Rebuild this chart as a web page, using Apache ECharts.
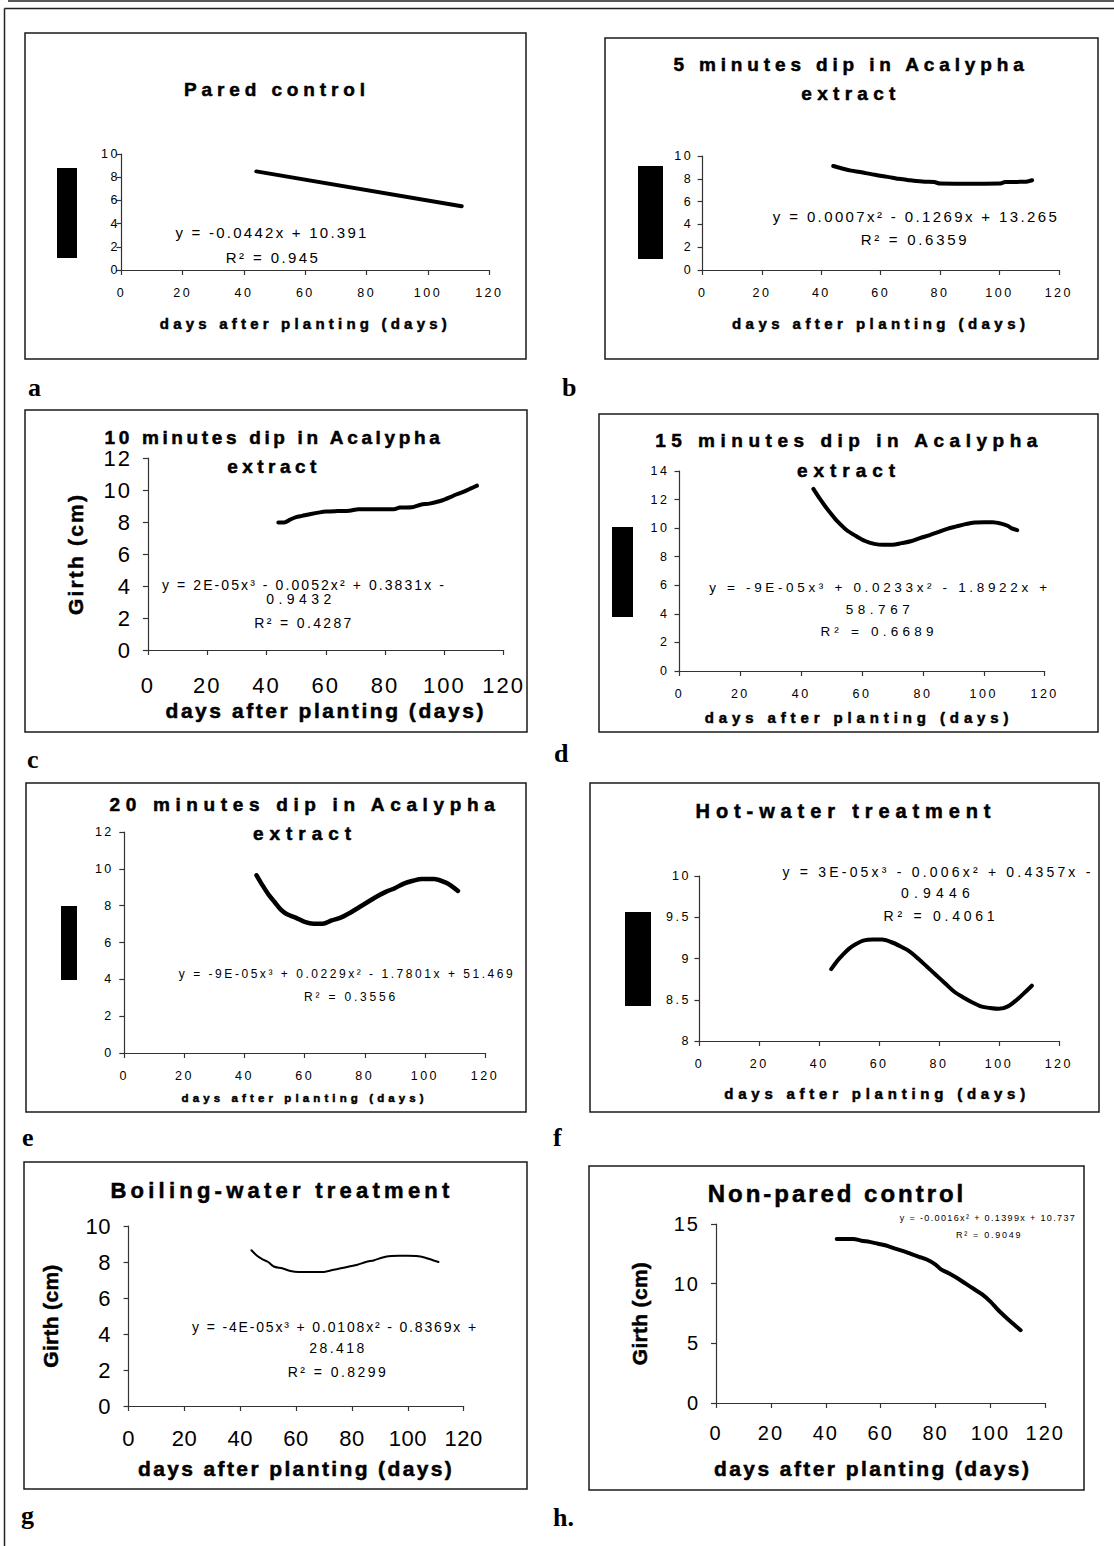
<!DOCTYPE html>
<html>
<head>
<meta charset="utf-8">
<script src="https://cdn.jsdelivr.net/npm/echarts@6/dist/echarts.min.js"></script>
<style>
  html, body { margin: 0; padding: 0; background: #fff; }
  body { position: relative; width: 1114px; height: 1546px; overflow: hidden; }
  .layer { position: absolute; left: 0; top: 0; width: 1114px; height: 1546px; }
</style>
</head>
<body>
<script>
const W = 1114, H = 1546;
const SANS = '"Liberation Sans", Arial, sans-serif';
const SERIF = '"Liberation Serif", "Times New Roman", serif';

// girth (cm) against days after planting
const paredDays = [44, 111];
const paredGirth = [8.5, 5.5];

const dip5Days = [44, 47, 50, 53, 55, 58, 61, 64, 66, 69, 72, 75, 78, 80, 85, 90, 95, 100, 102, 106, 109, 111];
const dip5Girth = [9.12, 8.9, 8.72, 8.6, 8.5, 8.35, 8.22, 8.1, 8.0, 7.9, 7.8, 7.75, 7.72, 7.58, 7.57, 7.57, 7.57, 7.58, 7.72, 7.73, 7.75, 7.87];

const dip10Days = [44, 46, 48, 50, 52, 55, 58, 60, 64, 68, 71, 75, 79, 83, 85, 89, 92, 95, 98, 100, 102, 104, 107, 109, 111];
const dip10Girth = [7.97, 7.97, 8.15, 8.3, 8.38, 8.5, 8.6, 8.65, 8.68, 8.7, 8.8, 8.8, 8.8, 8.8, 8.9, 8.92, 9.08, 9.15, 9.28, 9.4, 9.55, 9.72, 9.93, 10.1, 10.27];

const dip15Days = [44, 46, 48, 50, 52, 55, 58, 61, 64, 67, 70, 73, 76, 79, 82, 85, 88, 91, 94, 97, 100, 103, 106, 108, 109, 111];
const dip15Girth = [12.75, 12.1, 11.5, 10.95, 10.45, 9.85, 9.45, 9.1, 8.9, 8.83, 8.83, 8.95, 9.08, 9.3, 9.5, 9.72, 9.95, 10.12, 10.28, 10.4, 10.42, 10.42, 10.3, 10.15, 10.0, 9.86];

const dip20Days = [44, 46, 48, 50, 52, 54, 57, 60, 63, 66, 69, 72, 75, 78, 81, 84, 87, 90, 93, 96, 99, 103, 107, 109, 111];
const dip20Girth = [9.65, 9.1, 8.6, 8.2, 7.8, 7.55, 7.35, 7.12, 7.02, 7.02, 7.2, 7.35, 7.6, 7.9, 8.2, 8.5, 8.75, 8.95, 9.2, 9.35, 9.45, 9.45, 9.25, 9.05, 8.8];

const hotDays = [44, 46, 48, 50, 52, 55, 58, 61, 64, 67, 70, 73, 76, 79, 82, 85, 88, 91, 94, 97, 100, 103, 106, 109, 111];
const hotGirth = [8.87, 8.97, 9.05, 9.12, 9.17, 9.22, 9.23, 9.23, 9.2, 9.15, 9.09, 9.0, 8.9, 8.8, 8.7, 8.6, 8.53, 8.47, 8.42, 8.4, 8.39, 8.42, 8.5, 8.6, 8.67];

const boilDays = [44, 46, 48, 50, 52, 55, 58, 61, 64, 67, 70, 73, 76, 79, 82, 85, 88, 91, 94, 97, 100, 103, 106, 109, 111];
const boilGirth = [8.65, 8.35, 8.15, 8.0, 7.75, 7.65, 7.5, 7.45, 7.45, 7.45, 7.45, 7.55, 7.65, 7.75, 7.85, 8.0, 8.1, 8.25, 8.33, 8.35, 8.35, 8.33, 8.25, 8.1, 8.0];

const nonParedDays = [44, 47, 50, 53, 56, 59, 62, 65, 68, 71, 74, 77, 80, 82, 85, 88, 91, 94, 97, 100, 103, 106, 109, 111];
const nonParedGirth = [13.75, 13.75, 13.75, 13.6, 13.5, 13.35, 13.2, 12.95, 12.75, 12.5, 12.25, 12.0, 11.6, 11.2, 10.85, 10.45, 10.0, 9.55, 9.1, 8.5, 7.75, 7.1, 6.5, 6.1];

const dayAxis = [0, 120, 20];
const xName = 'days after planting (days)';
const yName = 'Girth (cm)';

// layout per panel (page pixels)
const panels = [
  { letter: 'a', letterPos: [28, 387], days: paredDays, girth: paredGirth, lw: 4,
    box: [25, 33, 526, 359], grid: [121.4, 154, 367.9, 116], yRange: [0, 10, 2],
    title: ['Pared control'], titleW: [181], titleX: 277, titleY: 89, titleSize: 19, titleLh: 29,
    tickSize: 12.5, tickLs: 2.5, xMargin: 16, yMargin: 1.5,
    xNameSize: 15, xNameGap: 45.5, xNameW: 287, redact: [57, 168, 20, 90],
    eqSize: 15, eq: [['y = -0.0442x + 10.391', 272, 232, 191], ['R² = 0.945', 273, 257, 92]] },
  { letter: 'b', letterPos: [562, 387], days: dip5Days, girth: dip5Girth, lw: 4,
    box: [605, 38, 1098, 359], grid: [702.6, 156, 356.2, 114], yRange: [0, 10, 2],
    title: ['5 minutes dip in Acalypha', 'extract'], titleW: [351, 94], titleX: 851, titleY: 64, titleSize: 19, titleLh: 29,
    tickSize: 12.5, tickLs: 2.5, xMargin: 16, yMargin: 9.5,
    xNameSize: 15, xNameGap: 45.5, xNameW: 293, redact: [638, 166, 25, 93],
    eqSize: 15, eq: [['y = 0.0007x² - 0.1269x + 13.265', 916, 216, 284], ['R² = 0.6359', 915, 239, 106]] },
  { letter: 'c', letterPos: [27, 759], days: dip10Days, girth: dip10Girth, lw: 4,
    box: [25, 410, 527, 732], grid: [147.9, 458, 355.7, 192], yRange: [0, 12, 2],
    title: ['10 minutes dip in Acalypha', 'extract'], titleW: [336, 89], titleX: 274, titleY: 437, titleSize: 19, titleLh: 29,
    tickSize: 22, tickLs: 2, xMargin: 24, yMargin: 16,
    xNameSize: 21, xNameGap: 49.5, xNameW: 318, yNameGap: 62.4, yNameW: 120,
    eqSize: 14, eq: [['y = 2E-05x³ - 0.0052x² + 0.3831x -', 304, 585, 282], ['0.9432', 301, 599, 65], ['R² = 0.4287', 304, 623, 97]] },
  { letter: 'd', letterPos: [554, 753], days: dip15Days, girth: dip15Girth, lw: 4,
    box: [599, 414, 1098, 732], grid: [679.5, 471, 365.1, 200], yRange: [0, 14, 2],
    title: ['15 minutes dip in Acalypha', 'extract'], titleW: [383, 98], titleX: 849, titleY: 440, titleSize: 19, titleLh: 30,
    tickSize: 12.5, tickLs: 2.5, xMargin: 16, yMargin: 10,
    xNameSize: 15, xNameGap: 38.5, xNameW: 304, xNameShift: 6, redact: [612, 527, 21, 90],
    eqSize: 13.5, eq: [['y = -9E-05x³ + 0.0233x² - 1.8922x +', 880, 587, 338], ['58.767', 880, 609, 64], ['R² = 0.6689', 879, 631, 113]] },
  { letter: 'e', letterPos: [22, 1137], days: dip20Days, girth: dip20Girth, lw: 4.5,
    box: [26, 783, 526, 1112], grid: [124.3, 832, 360.7, 221], yRange: [0, 12, 2],
    title: ['20 minutes dip in Acalypha', 'extract'], titleW: [386, 98], titleX: 305, titleY: 804, titleSize: 19, titleLh: 29,
    tickSize: 12.5, tickLs: 2.5, xMargin: 16, yMargin: 10.5,
    xNameSize: 11.5, xNameGap: 39.2, xNameW: 242, redact: [61, 906, 16, 74],
    eqSize: 12, eq: [['y = -9E-05x³ + 0.0229x² - 1.7801x + 51.469', 347, 974, 334], ['R² = 0.3556', 351, 997, 91]] },
  { letter: 'f', letterPos: [553, 1137], days: hotDays, girth: hotGirth, lw: 4,
    box: [590, 783, 1099, 1112], grid: [699.4, 876, 359.4, 165], yRange: [8, 10, 0.5],
    title: ['Hot-water treatment'], titleW: [295], titleX: 846, titleY: 811, titleSize: 20, titleLh: 29,
    tickSize: 12.5, tickLs: 2.5, xMargin: 16, yMargin: 8.5,
    xNameSize: 15, xNameGap: 44.5, xNameW: 301, xNameShift: 4, redact: [625, 912, 26, 94],
    eqSize: 14, eq: [['y = 3E-05x³ - 0.006x² + 0.4357x -', 938, 872, 308], ['0.9446', 938, 893, 69], ['R² = 0.4061', 941, 916, 111]] },
  { letter: 'g', letterPos: [21, 1515], days: boilDays, girth: boilGirth, lw: 2,
    box: [24, 1162, 527, 1489], grid: [128.6, 1226, 335, 180], yRange: [0, 10, 2],
    title: ['Boiling-water treatment'], titleW: [339], titleX: 282, titleY: 1190, titleSize: 22, titleLh: 29,
    tickSize: 22, tickLs: 0.5, xMargin: 21, yMargin: 17.5,
    xNameSize: 21, xNameGap: 51.5, xNameW: 314, yNameGap: 68, yNameW: 103,
    eqSize: 14, eq: [['y = -4E-05x³ + 0.0108x² - 0.8369x +', 335, 1327, 284], ['28.418', 338, 1348, 55], ['R² = 0.8299', 338, 1372, 98]] },
  { letter: 'h.', letterPos: [553, 1517], days: nonParedDays, girth: nonParedGirth, lw: 4,
    box: [589, 1166, 1084, 1490], grid: [716, 1224, 329.3, 179], yRange: [0, 15, 5],
    title: ['Non-pared control'], titleW: [255.5], titleX: 837, titleY: 1193, titleSize: 24, titleLh: 29,
    tickSize: 20, tickLs: 2, xMargin: 20, yMargin: 16,
    xNameSize: 21, xNameGap: 54.5, xNameW: 315, xNameShift: 16, yNameGap: 66, yNameW: 103,
    eqSize: 9, eq: [['y = -0.0016x² + 0.1399x + 10.737', 988, 1218, 175], ['R² = 0.9049', 989, 1235, 64.5]] }
];

// the scanned figure has wide letter spacing; stretch svg text to the widths seen
const measureCtx = document.createElement('canvas').getContext('2d');
function spaceText(chart, targets, tickLs) {
  chart.getDom().querySelectorAll('text').forEach(t => {
    const s = t.textContent;
    let ls = 0;
    if (s in targets) {
      const cs = getComputedStyle(t);
      measureCtx.font = `${cs.fontWeight} ${cs.fontSize} ${cs.fontFamily}`;
      const n = [...s].length;
      if (n > 1) ls = (targets[s] - measureCtx.measureText(s).width) / (n - 1);
    } else if (/^\d+(\.\d+)?$/.test(s)) {
      ls = tickLs;
    }
    if (ls) t.setAttribute('letter-spacing', ls.toFixed(2));
  });
}

function newChart() {
  const el = document.createElement('div');
  el.className = 'layer';
  document.body.appendChild(el);
  return echarts.init(el, null, { renderer: 'svg', width: W, height: H });
}

// outer double rule of the figure
const frame = newChart();
frame.setOption({
  animation: false,
  graphic: [
    [8, 1, W, 1], [4.5, 8.5, W, 8.5], [4.5, 8.5, 4.5, H]
  ].map(([x1, y1, x2, y2]) => ({
    type: 'line', silent: true,
    shape: { x1, y1, x2, y2 },
    style: { stroke: '#222', lineWidth: 1.5 }
  }))
});

const heavy = { textBorderColor: '#000', textBorderWidth: 0.5 };

panels.forEach(p => {
  const chart = newChart();
  const targets = {};
  p.title.forEach((s, i) => { targets[s] = p.titleW[i]; });
  targets[xName] = p.xNameW;
  if (p.yNameW) targets[yName] = p.yNameW;
  p.eq.forEach(l => { targets[l[0]] = l[3]; });

  const [bx1, by1, bx2, by2] = p.box;
  const graphic = [
    { type: 'rect', silent: true, z: -1,
      shape: { x: bx1, y: by1, width: bx2 - bx1, height: by2 - by1 },
      style: { fill: 'none', stroke: '#1a1a1a', lineWidth: 1.5 } },
    { type: 'text', silent: true, x: p.letterPos[0], y: p.letterPos[1],
      style: { text: p.letter, fontFamily: SERIF, fontWeight: 'bold', fontSize: 26, fill: '#000',
               textAlign: 'left', textVerticalAlign: 'middle' } }
  ];
  if (p.redact) {
    const [rx, ry, rw, rh] = p.redact;
    graphic.push({ type: 'rect', silent: true, shape: { x: rx, y: ry, width: rw, height: rh }, style: { fill: '#000' } });
  }
  p.eq.forEach(([text, x, y]) => {
    graphic.push({ type: 'text', silent: true, x, y,
      style: { text, fontFamily: SANS, fontSize: p.eqSize, fill: '#000', textAlign: 'center', textVerticalAlign: 'middle' } });
  });

  const axisLine = { show: true, onZero: false, lineStyle: { color: '#333', width: 1.2 } };
  const axisTick = { show: true, length: 5, lineStyle: { color: '#333', width: 1.2 } };
  const yAxis = {
    type: 'value', min: p.yRange[0], max: p.yRange[1], interval: p.yRange[2],
    axisLine, axisTick, splitLine: { show: false },
    axisLabel: { margin: p.yMargin, fontFamily: SANS, fontSize: p.tickSize, color: '#000' }
  };
  if (p.yNameW) {
    Object.assign(yAxis, {
      name: yName, nameLocation: 'middle', nameRotate: 90, nameGap: p.yNameGap,
      nameTextStyle: { fontFamily: SANS, fontWeight: 'bold', fontSize: 21, lineHeight: 21, color: '#000', ...heavy }
    });
  }

  chart.setOption({
    animation: false,
    textStyle: { fontFamily: SANS },
    title: {
      text: p.title.join('\n'),
      left: p.titleX, top: p.titleY - p.titleLh / 2,
      textAlign: 'center', textBaseline: 'top', padding: 0,
      textStyle: { fontFamily: SANS, fontWeight: 'bold', fontSize: p.titleSize, lineHeight: p.titleLh, color: '#000', ...heavy }
    },
    grid: { left: p.grid[0], top: p.grid[1], width: p.grid[2], height: p.grid[3], containLabel: false, outerBoundsMode: 'none' },
    xAxis: {
      type: 'value', min: dayAxis[0], max: dayAxis[1], interval: dayAxis[2],
      name: xName, nameLocation: 'middle', nameGap: p.xNameGap,
      nameTextStyle: { fontFamily: SANS, fontWeight: 'bold', fontSize: p.xNameSize, lineHeight: p.xNameSize, color: '#000',
                       padding: [0, p.xNameShift || 0, 0, 0], ...heavy },
      axisLine, axisTick, splitLine: { show: false },
      axisLabel: { margin: p.xMargin, fontFamily: SANS, fontSize: p.tickSize, color: '#000' }
    },
    yAxis,
    graphic,
    series: [{
      type: 'line', silent: true, symbol: 'none', smooth: 0.3,
      data: p.days.map((d, i) => [d, p.girth[i]]),
      lineStyle: { color: '#000', width: p.lw, cap: 'round', join: 'round' }
    }]
  });
  spaceText(chart, targets, p.tickLs);
  chart.on('finished', () => spaceText(chart, targets, p.tickLs));
});
</script>
</body>
</html>
